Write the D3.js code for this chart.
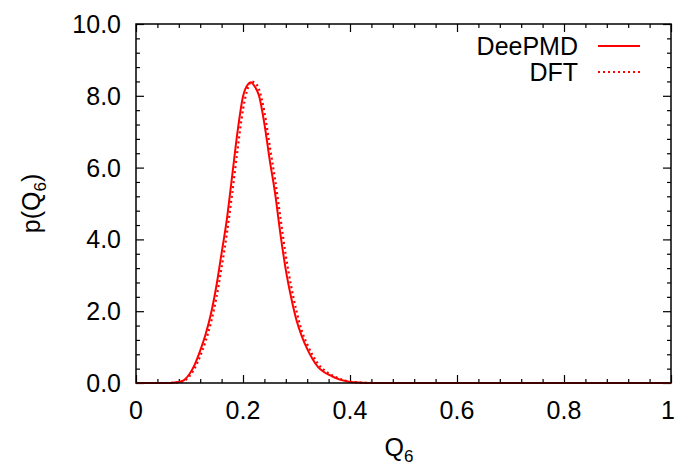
<!DOCTYPE html>
<html>
<head>
<meta charset="utf-8">
<script src="https://cdn.jsdelivr.net/npm/d3@7"></script>
<style>
  html, body { margin: 0; padding: 0; background: #fff; }
  svg { display: block; }
  text { font-family: "Liberation Sans", Arial, Helvetica, sans-serif; fill: #000; }
</style>
</head>
<body>
<svg id="chart" width="676" height="465"></svg>
<script>
// ---- data ----
const q6Grid = [0.00, 0.02, 0.04, 0.06, 0.07, 0.08, 0.09, 0.10, 0.11, 0.12, 0.13, 0.14, 0.15, 0.16, 0.17, 0.18, 0.19, 0.20, 0.21, 0.215, 0.22, 0.23, 0.24, 0.25, 0.26, 0.27, 0.28, 0.29, 0.30, 0.31, 0.32, 0.33, 0.34, 0.35, 0.36, 0.37, 0.38, 0.39, 0.40, 0.42, 0.45, 0.50, 0.60, 0.70, 0.80, 0.90, 1.00];
const deepmdValues = [0, 0, 0, 0, 0.01, 0.03, 0.08, 0.25, 0.52, 0.90, 1.35, 1.92, 2.68, 3.62, 4.58, 5.80, 7.02, 7.98, 8.33, 8.38, 8.30, 8.00, 7.22, 6.21, 5.28, 4.15, 3.15, 2.38, 1.75, 1.30, 0.95, 0.67, 0.45, 0.32, 0.23, 0.16, 0.10, 0.06, 0.03, 0.01, 0, 0, 0, 0, 0, 0, 0];
const dftValues    = [0, 0, 0, 0, 0.01, 0.02, 0.06, 0.19, 0.42, 0.75, 1.16, 1.68, 2.36, 3.22, 4.18, 5.30, 6.52, 7.62, 8.25, 8.40, 8.38, 8.18, 7.55, 6.60, 5.66, 4.60, 3.55, 2.70, 2.00, 1.45, 1.08, 0.78, 0.54, 0.38, 0.27, 0.19, 0.12, 0.07, 0.04, 0.01, 0, 0, 0, 0, 0, 0, 0];
const seriesNames = ["DeePMD", "DFT"];
const xTickValues = [0, 0.2, 0.4, 0.6, 0.8, 1];
const xTickLabels = ["0", "0.2", "0.4", "0.6", "0.8", "1"];
const yTickValues = [0, 2, 4, 6, 8, 10];
const yTickLabels = ["0.0", "2.0", "4.0", "6.0", "8.0", "10.0"];

// ---- layout ----
const svg = d3.select("#chart");
const pL = 136, pR = 671, pT = 24, pB = 383;
const x = d3.scaleLinear().domain([0, 1]).range([pL, pR]);
const y = d3.scaleLinear().domain([0, 10]).range([pB, pT]);
const red = "#ff0000";
const fontSize = 25;

// minor ticks
const xMinor = d3.range(0, 1.0001, 0.04).filter(v => !xTickValues.some(t => Math.abs(t - v) < 1e-6));
const yMinor = d3.range(0, 10.0001, 0.4).filter(v => !yTickValues.some(t => Math.abs(t - v) < 1e-6));

function axisGroup(axisFn, scale, ticks, size, transform) {
  const g = svg.append("g").attr("transform", transform)
    .call(axisFn(scale).tickValues(ticks).tickSize(size).tickFormat(""));
  g.select(".domain").remove();
  g.selectAll("line").attr("stroke", "#000").attr("stroke-width", 1.2);
  return g;
}
axisGroup(d3.axisTop, x, xTickValues, 8, `translate(0,${pB})`);
axisGroup(d3.axisTop, x, xMinor, 4, `translate(0,${pB})`);
axisGroup(d3.axisBottom, x, xTickValues, 8, `translate(0,${pT})`);
axisGroup(d3.axisBottom, x, xMinor, 4, `translate(0,${pT})`);
axisGroup(d3.axisRight, y, yTickValues, 8, `translate(${pL},0)`);
axisGroup(d3.axisRight, y, yMinor, 4, `translate(${pL},0)`);
axisGroup(d3.axisLeft, y, yTickValues, 8, `translate(${pR},0)`);
axisGroup(d3.axisLeft, y, yMinor, 4, `translate(${pR},0)`);

// tick labels (last one kept inside the canvas)
const lastX = xTickValues.length - 1;
svg.append("g").selectAll("text").data(xTickValues).join("text")
  .attr("x", (d, i) => i === lastX ? 675 : x(d)).attr("y", 419)
  .attr("text-anchor", (d, i) => i === lastX ? "end" : "middle")
  .attr("font-size", fontSize)
  .text((d, i) => xTickLabels[i]);
svg.append("g").selectAll("text").data(yTickValues).join("text")
  .attr("x", 121).attr("y", d => y(d) + 9)
  .attr("text-anchor", "end").attr("font-size", fontSize)
  .text((d, i) => yTickLabels[i]);

// axis titles
const xt = svg.append("text").attr("x", 399).attr("y", 456)
  .attr("text-anchor", "middle").attr("font-size", fontSize);
xt.append("tspan").text("Q");
xt.append("tspan").attr("font-size", 17).attr("dy", 6).text("6");

const yt = svg.append("text")
  .attr("transform", `translate(40,${(pT + pB) / 2}) rotate(-90)`)
  .attr("text-anchor", "middle").attr("font-size", fontSize);
yt.append("tspan").text("p(Q");
yt.append("tspan").attr("font-size", 17).attr("dy", 6).text("6");
yt.append("tspan").attr("dy", -6).text(")");

// curves
const pts = vals => q6Grid.map((q, i) => [q, vals[i]]);
const line = d3.line().x(d => x(d[0])).y(d => y(d[1])).curve(d3.curveMonotoneX);
svg.append("path").datum(pts(dftValues)).attr("d", line)
  .attr("fill", "none").attr("stroke", red).attr("stroke-width", 2.2)
  .attr("stroke-dasharray", "2,3");
svg.append("path").datum(pts(deepmdValues)).attr("d", line)
  .attr("fill", "none").attr("stroke", red).attr("stroke-width", 2);

// frame
svg.append("rect").attr("x", pL).attr("y", pT)
  .attr("width", pR - pL).attr("height", pB - pT)
  .attr("fill", "none").attr("stroke", "#000").attr("stroke-width", 1.5);

// legend
const legend = svg.append("g");
seriesNames.forEach((name, i) => {
  const ly = 46 + i * 26;
  legend.append("text").attr("x", 578).attr("y", ly + 9)
    .attr("text-anchor", "end").attr("font-size", fontSize).text(name);
  legend.append("line").attr("x1", 598).attr("x2", 640)
    .attr("y1", ly).attr("y2", ly)
    .attr("stroke", red).attr("stroke-width", 2)
    .attr("stroke-dasharray", i === 0 ? null : "2,3");
});
</script>
</body>
</html>
